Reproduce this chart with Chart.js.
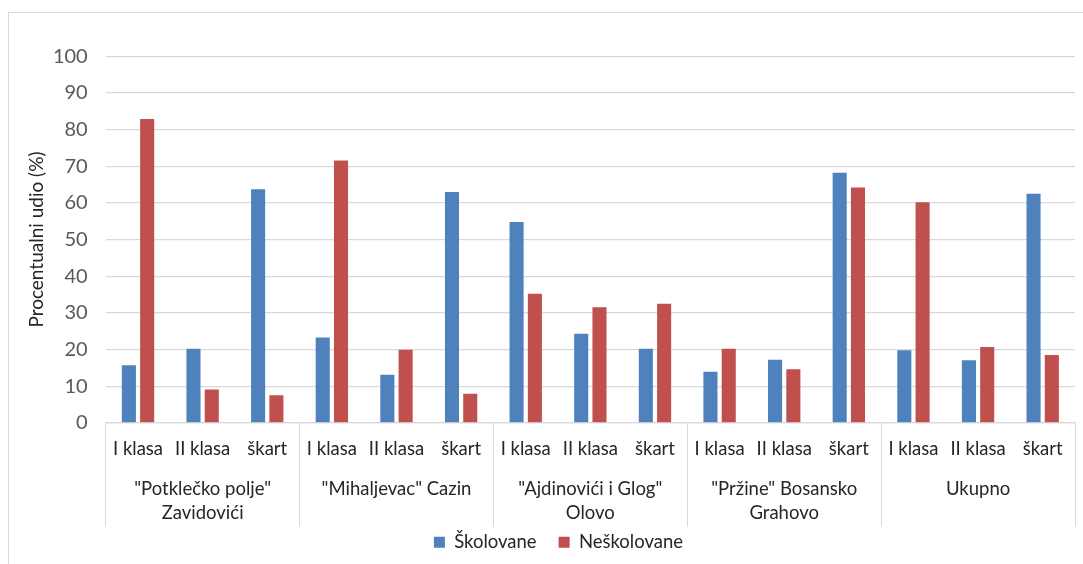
<!DOCTYPE html>
<html>
<head>
<meta charset="utf-8">
<script src="https://cdn.jsdelivr.net/npm/chart.js@4.4.1/dist/chart.umd.min.js"></script>
<style>
  html, body { margin: 0; background: #fff; }
  canvas { display: block; }
</style>
</head>
<body>
<canvas id="chart" width="1083" height="564" style="width:1083px;height:564px"></canvas>
<script>
// Orchards (outer category level) and fruit classes (inner level)
const groupLabels = [
  ['"Potklečko polje"', 'Zavidovići'],
  ['"Mihaljevac" Cazin'],
  ['"Ajdinovići i Glog"', 'Olovo'],
  ['"Pržine" Bosansko', 'Grahovo'],
  ['Ukupno']
];
const classLabels = ['I klasa', 'II klasa', 'škart'];

// Share of fruit per class (%)
const skolovane   = [15.7, 20.2, 63.7, 23.3, 13.1, 63.0, 54.8, 24.3, 20.2, 13.9, 17.2, 68.2, 19.8, 17.1, 62.5];
const neskolovane = [82.9,  9.1,  7.5, 71.6, 19.9,  7.9, 35.2, 31.5, 32.5, 20.2, 14.6, 64.2, 60.2, 20.7, 18.5];

const seriesNames = ['Školovane', 'Neškolovane'];
const yMin = 0, yMax = 100, yStep = 10;

const categories = groupLabels.flatMap(() => classLabels);

const FONT = 'Lato, "Open Sans", sans-serif';
const GRID = '#d9d9d9';
const TEXT = '#262626';

Chart.defaults.font.family = FONT;

// White page with a thin frame around the chart object
const framePlugin = {
  id: 'frame',
  beforeDraw(chart) {
    const ctx = chart.ctx;
    ctx.save();
    ctx.fillStyle = '#ffffff';
    ctx.fillRect(0, 0, chart.width, chart.height);
    ctx.strokeStyle = GRID;
    ctx.lineWidth = 1;
    ctx.strokeRect(8.5, 12.5, chart.width + 10, chart.height + 10);
    ctx.restore();
  }
};

new Chart(document.getElementById('chart'), {
  type: 'bar',
  data: {
    labels: categories,
    datasets: [
      { label: seriesNames[0], data: skolovane, backgroundColor: '#4f81bd',
        categoryPercentage: 0.566, barPercentage: 0.77 },
      { label: seriesNames[1], data: neskolovane, backgroundColor: '#c0504d',
        categoryPercentage: 0.566, barPercentage: 0.77 }
    ]
  },
  options: {
    responsive: false,
    animation: false,
    layout: { padding: { top: 56.3, left: 42, right: 8, bottom: 2.5 } },
    plugins: {
      tooltip: { enabled: false },
      legend: {
        position: 'bottom',
        labels: {
          boxWidth: 11, boxHeight: 11, padding: 22,
          color: TEXT, font: { size: 18.5 }
        }
      }
    },
    scales: {
      x: {
        type: 'category',
        position: 'bottom',
        weight: 0,
        offset: true,
        grid: {
          display: true, offset: true, drawOnChartArea: false, drawTicks: true,
          tickLength: 104, color: GRID,
          // separators only between orchards
          lineWidth: c => (c.index === undefined || c.index % classLabels.length === 0) ? 1 : 0
        },
        border: { display: true, color: GRID, width: 1.2 },
        ticks: {
          padding: -88.4, maxRotation: 0, minRotation: 0, autoSkip: false,
          color: TEXT, font: { size: 18.5, lineHeight: 1.2 }
        },
        afterFit: s => { s.height = 50; }
      },
      x2: {
        type: 'category',
        position: 'bottom',
        weight: 1,
        labels: groupLabels,
        offset: true,
        grid: { display: false },
        border: { display: false },
        ticks: {
          mirror: true, padding: -28, maxRotation: 0, minRotation: 0, autoSkip: false,
          color: TEXT, font: { size: 18.5, lineHeight: 1.3 }
        },
        afterFit: s => { s.height = 38.2; }
      },
      y: {
        min: yMin, max: yMax,
        ticks: { stepSize: yStep, padding: 18, color: '#595959', font: { size: 20 } },
        grid: { color: GRID, lineWidth: 1.2, drawTicks: false },
        border: { display: false },
        title: {
          display: true, text: 'Procentualni udio (%)', color: TEXT,
          font: { size: 19 }, padding: { top: -16.7, bottom: 0 }
        },
        afterFit: s => { s.width = 63.7; }
      }
    }
  },
  plugins: [framePlugin]
});
</script>
</body>
</html>
